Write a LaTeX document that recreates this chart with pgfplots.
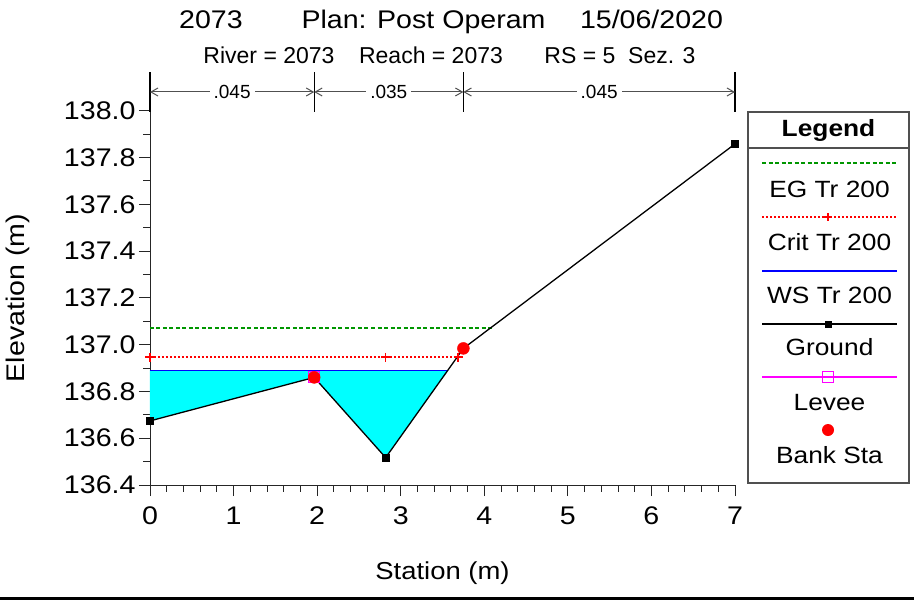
\documentclass[border=0pt]{standalone}
\usepackage{fontspec}
\setmainfont{Liberation Sans}[FakeStretch=1.12]
\newfontfamily\plainfont{Liberation Sans}
\usepackage{pgfplots}
\pgfplotsset{compat=1.18}
\usetikzlibrary{arrows.meta}
\definecolor{egreen}{RGB}{0,150,0}
\definecolor{cred}{RGB}{255,0,0}
\definecolor{wsblue}{RGB}{0,0,255}
\definecolor{wcyan}{RGB}{0,255,255}
\definecolor{lmag}{RGB}{255,0,255}
\definecolor{lgray}{RGB}{80,80,80}
\begin{document}
\begin{tikzpicture}[x=1pt,y=1pt]
\path[use as bounding box] (0,0) rectangle (914,-600);
% titles
\node[anchor=base, font=\fontsize{25.5}{30}\selectfont] at (211,-28.3) {2073};
\node[anchor=base, font=\fontsize{25.5}{30}\selectfont] at (423.5,-28.3) {Plan: Post Operam};
\node[anchor=base, font=\fontsize{25.5}{30}\selectfont] at (651.5,-28.3) {15/06/2020};
\node[anchor=base, font=\plainfont\fontsize{23}{27}\selectfont] at (269,-63.3) {River = 2073};
\node[anchor=base, font=\plainfont\fontsize{23}{27}\selectfont] at (431,-63.3) {Reach = 2073};
\node[anchor=base, font=\plainfont\fontsize{23}{27}\selectfont] at (620,-63.3) {RS = 5\ \ Sez. 3};
\begin{axis}[
  at={(150pt,-485pt)}, anchor=south west,
  scale only axis, width=585pt, height=374.3pt,
  xmin=0, xmax=7, ymin=136.4, ymax=138.0,
  axis lines*=left, clip=false,
  axis line style={black!85, line width=0.9pt},
  tick align=outside, tick style={black!85, line width=0.9pt},
  major tick length=11pt, minor tick length=6.5pt,
  xtick={0,1,2,3,4,5,6,7}, minor x tick num=4,
  ytick={136.4,136.6,136.8,137.0,137.2,137.4,137.6,137.8,138.0}, minor y tick num=1,
  /pgf/number format/assume math mode=true,
  yticklabel style={/pgf/number format/.cd, fixed, fixed zerofill, precision=1},
  xticklabel style={yshift=-7pt},
  ticklabel style={font=\fontsize{25.5}{30}\selectfont},
  xlabel={Station (m)},
  xlabel style={at={(axis description cs:0.5,0)}, anchor=base, yshift=-94pt, font=\fontsize{24.5}{29}\selectfont},
  ylabel={Elevation (m)},
  ylabel style={at={(axis description cs:-0.2256,0.4996)}, anchor=center, font=\fontsize{25.5}{30}\selectfont},
]
% water area
\addplot[fill=wcyan, draw=none] coordinates {(0,136.89) (3.568,136.89) (2.82,136.52) (1.965,136.86) (0,136.674)} -- cycle;
% EG
\addplot[color=egreen, draw=egreen, line width=1.5pt, dash pattern=on 4pt off 2.5pt, mark=none] coordinates {(0,137.072) (4.09,137.072)};
% Crit
\addplot[color=cred, draw=cred, line width=1.9pt, dash pattern=on 2pt off 2pt, mark=none] coordinates {(0,136.946) (3.689,136.946)};
\addplot[only marks, color=cred, mark=+, mark size=4.5pt, mark options={solid, line width=1.6pt, draw=cred}] coordinates {(0,136.946) (2.82,136.946) (3.689,136.946)};
% WS
\addplot[color=wsblue, line width=1.4pt, mark=none] coordinates {(0,136.89) (3.568,136.89)};
% Ground
\addplot[color=black, line width=1.3pt, mark=square*, mark size=3.4pt, mark options={solid}] coordinates {(0,136.674) (1.965,136.86) (2.82,136.517) (3.75,136.984) (7,137.858)};
% Levee
\addplot[only marks, color=lmag, mark=square, mark size=5.5pt, mark options={line width=1.2pt, draw=lmag}] coordinates {(1.965,136.86)};
% Bank stations
\addplot[only marks, color=cred, mark=*, mark size=6pt, mark options={draw=cred, fill=cred}] coordinates {(1.965,136.86) (3.75,136.984)};
% Manning n bars
\draw[black, line width=1.1pt] (axis cs:0,138.165) -- (axis cs:0,137.994);
\draw[black, line width=1.1pt] (axis cs:1.965,138.165) -- (axis cs:1.965,137.994);
\draw[black, line width=1.1pt] (axis cs:3.75,138.165) -- (axis cs:3.75,137.994);
\draw[black, line width=1.1pt] (axis cs:7,138.165) -- (axis cs:7,137.994);
\draw[lgray, line width=1pt, {Straight Barb[length=7pt,width=8pt]}-{Straight Barb[length=7pt,width=8pt]}] (axis cs:0,138.08) -- (axis cs:1.965,138.08) node[midway, fill=white, inner xsep=4pt, inner ysep=1pt, text=black, font=\plainfont\fontsize{19}{22}\selectfont] {.045};
\draw[lgray, line width=1pt, {Straight Barb[length=7pt,width=8pt]}-{Straight Barb[length=7pt,width=8pt]}] (axis cs:1.965,138.08) -- (axis cs:3.75,138.08) node[midway, fill=white, inner xsep=4pt, inner ysep=1pt, text=black, font=\plainfont\fontsize{19}{22}\selectfont] {.035};
\draw[lgray, line width=1pt, {Straight Barb[length=7pt,width=8pt]}-{Straight Barb[length=7pt,width=8pt]}] (axis cs:3.75,138.08) -- (axis cs:7,138.08) node[midway, fill=white, inner xsep=4pt, inner ysep=1pt, text=black, font=\plainfont\fontsize{19}{22}\selectfont] {.045};
\end{axis}
% Legend box
\draw[lgray, line width=1.2pt] (748,-112) rectangle (909,-483);
\draw[lgray, line width=1.2pt] (748,-148) -- (909,-148);
\node[anchor=base, font=\bfseries\fontsize{23.5}{28}\selectfont] at (828.5,-136.5) {Legend};
\draw[egreen, line width=1.5pt, dash pattern=on 4pt off 2.5pt] (762,-163) -- (897,-163);
\node[anchor=base, font=\fontsize{23.5}{28}\selectfont] at (829.5,-197) {EG Tr 200};
\draw[cred, line width=1.6pt, dash pattern=on 2pt off 2pt] (762,-217) -- (897,-217);
\draw[cred, line width=1.4pt] (824,-217) -- (832,-217) (828,-213) -- (828,-221);
\node[anchor=base, font=\fontsize{23.5}{28}\selectfont] at (829.5,-250) {Crit Tr 200};
\draw[wsblue, line width=1.4pt] (762,-271) -- (897,-271);
\node[anchor=base, font=\fontsize{23.5}{28}\selectfont] at (829.5,-303) {WS Tr 200};
\draw[black, line width=1.3pt] (762,-324) -- (897,-324);
\fill[black] (824.5,-320.5) rectangle (831.5,-327.5);
\node[anchor=base, font=\fontsize{23.5}{28}\selectfont] at (829.5,-355) {Ground};
\draw[lmag, line width=1.3pt] (762,-377) -- (897,-377);
\draw[lmag, line width=1.2pt] (822.5,-371.5) rectangle (833.5,-382.5);
\node[anchor=base, font=\fontsize{23.5}{28}\selectfont] at (829.5,-410) {Levee};
\fill[cred] (828,-430) circle (6);
\node[anchor=base, font=\fontsize{23.5}{28}\selectfont] at (829.5,-463) {Bank Sta};
% bottom rule
\draw[black, line width=3pt] (0,-598) -- (914,-598);
\end{tikzpicture}
\end{document}
